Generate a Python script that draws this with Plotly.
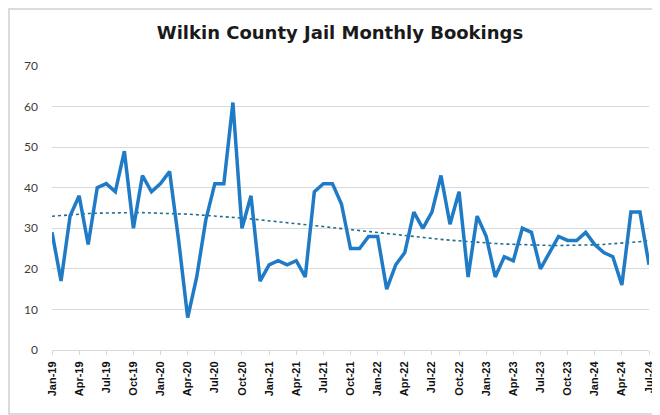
import numpy as np
import plotly.graph_objects as go

years = ["19", "20", "21", "22", "23", "24"]
month_names = ["Jan", "Feb", "Mar", "Apr", "May", "Jun", "Jul", "Aug", "Sep", "Oct", "Nov", "Dec"]
months = [f"{m}-{y}" for y in years for m in month_names][:67]

bookings = [
    29, 17, 33, 38, 26, 40, 41, 39, 49, 30, 43, 39,   # 2019
    41, 44, 27, 8, 18, 32, 41, 41, 61, 30, 38, 17,    # 2020
    21, 22, 21, 22, 18, 39, 41, 41, 36, 25, 25, 28,   # 2021
    28, 15, 21, 24, 34, 30, 34, 43, 31, 39, 18, 33,   # 2022
    28, 18, 23, 22, 30, 29, 20, 24, 28, 27, 27, 29,   # 2023
    26, 24, 23, 16, 34, 34, 21,                       # 2024
]

tick_labels = months[::3]
y_ticks = [0, 10, 20, 30, 40, 50, 60, 70]

# Polynomial trendline computed from the data (as in the original spreadsheet trendline)
idx = np.arange(len(bookings))
coef = np.polyfit(idx, bookings, 3)
trend = np.polyval(coef, idx)

W, H = 652, 407  # page body has an 8px margin
L, R, T, B = 44, 11, 58, 65
pw, ph = W - L - R, H - T - B

fig = go.Figure()
fig.add_trace(go.Scatter(
    x=months, y=trend, mode="lines",
    line=dict(color="#1f6f8b", width=1.6, dash="dot"),
    hoverinfo="skip", showlegend=False,
))
fig.add_trace(go.Scatter(
    x=months, y=bookings, mode="lines",
    line=dict(color="#1f7bc6", width=3.5),
    showlegend=False,
))

fig.update_layout(
    width=W, height=H,
    margin=dict(l=L, r=R, t=T, b=B, autoexpand=False),
    paper_bgcolor="white", plot_bgcolor="white",
    title=dict(
        text="<b>Wilkin County Jail Monthly Bookings</b>",
        x=332 / W, xanchor="center", y=1 - 25 / H, yanchor="middle",
        font=dict(family="'DejaVu Sans', sans-serif", size=18, color="#1a1a1a"),
        automargin=False,
    ),
    xaxis=dict(
        type="category", range=[0, len(months) - 1],
        tickmode="array", tickvals=tick_labels, ticktext=tick_labels,
        tickangle=-90, showgrid=False, automargin=False,
        showline=True, linecolor="#d9d9d9", linewidth=1,
        ticks="outside", ticklen=4, tickcolor="#d9d9d9",
        tickfont=dict(family="Liberation Sans, Arial, sans-serif", size=11, color="#111111", weight="bold"),
        ticklabelstandoff=2,
    ),
    yaxis=dict(
        range=[0, 70], tickmode="array", tickvals=y_ticks, automargin=False,
        showgrid=True, gridcolor="#d9d9d9", gridwidth=1,
        zeroline=False, showline=False,
        tickfont=dict(family="Lato, 'Open Sans', sans-serif", size=12, color="#404040"),
        ticklabelstandoff=13,
    ),
    shapes=[dict(
        type="rect", xref="paper", yref="paper",
        x0=(1 - L) / pw, x1=(W - 1 - L) / pw, y0=-(B - 1) / ph, y1=1 + (T - 1) / ph,
        line=dict(color="#d0d0d0", width=1.5), fillcolor="rgba(0,0,0,0)", layer="below",
    )],
)

fig.write_html("out.html")
